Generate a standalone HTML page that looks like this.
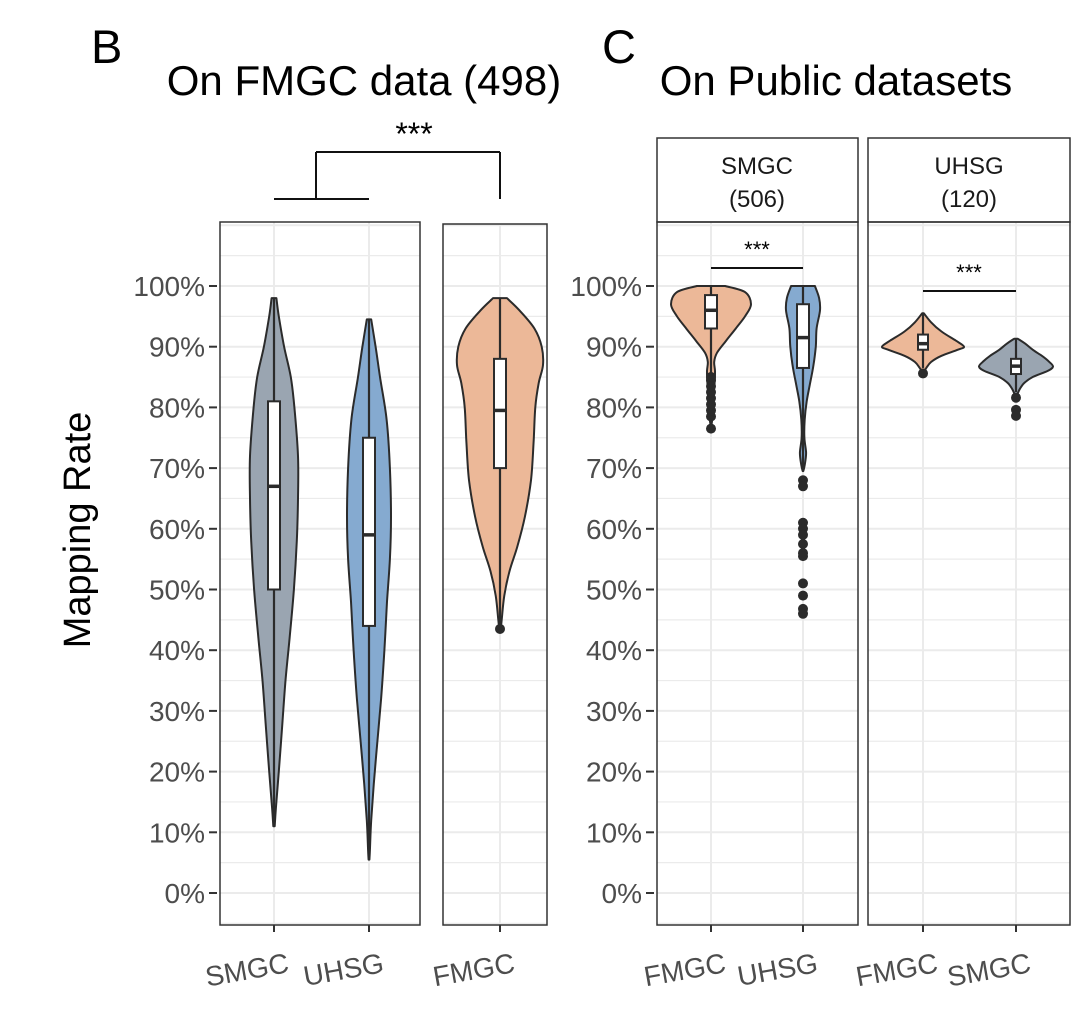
<!DOCTYPE html>
<html><head><meta charset="utf-8"><style>
html,body{margin:0;padding:0;background:#fff;}
svg{display:block;font-family:"Liberation Sans",Arial,sans-serif;}
</style></head><body>
<svg id="chart" width="1080" height="1017" viewBox="0 0 1080 1017"></svg>
<script>
// ---------- data ----------
const yTicks = [0,10,20,30,40,50,60,70,80,90,100];
const yTickLabels = ["0%","10%","20%","30%","40%","50%","60%","70%","80%","90%","100%"];
// violin densities: [value %, relative density 0..1]
const densSMGC_B = [[98,0.1],[95,0.2],[90,0.42],[85,0.7],[80,0.85],[72,1],[65,1],[58,0.95],[50,0.83],[42,0.65],[35,0.48],[28,0.35],[20,0.2],[14,0.08],[11,0.03]];
const densUHSG_B = [[94.5,0.1],[90,0.3],[85,0.5],[78,0.8],[70,0.95],[62,1],[55,0.95],[48,0.82],[40,0.7],[32,0.55],[25,0.38],[18,0.22],[12,0.1],[7,0.04],[5.5,0.02]];
const densFMGC_B = [[98,0.16],[96,0.45],[93,0.8],[90,0.97],[87,1],[84,0.9],[80,0.82],[74,0.78],[68,0.72],[62,0.58],[57,0.4],[53,0.22],[49,0.1],[45,0.04],[43.5,0.02]];
const densFMGC_C1 = [[100,0.35],[99,0.85],[97,1],[95,0.85],[93,0.62],[91,0.38],[89,0.15],[87.5,0.08],[86,0.1],[84,0.09],[82,0.07],[80,0.05],[78,0.03],[77,0.01]];
const densUHSG_C1 = [[100,0.7],[98,0.95],[96,1],[93,0.8],[90,0.75],[87,0.62],[84,0.42],[81,0.22],[78,0.1],[75,0.08],[72.5,0.18],[70.5,0.1],[69.5,0.02]];
const densFMGC_C2 = [[95.5,0.02],[94,0.2],[92.5,0.45],[91,0.8],[90,1],[89.5,0.85],[88.5,0.45],[87.5,0.2],[86.5,0.08],[85.8,0.02]];
const densSMGC_C2 = [[91.3,0.05],[90.5,0.25],[89.5,0.45],[88.5,0.7],[87.5,0.9],[86.7,1],[86,0.85],[85,0.45],[84,0.22],[83,0.1],[82,0.03]];
// box stats: [q1, median, q3, whiskerLow, whiskerHigh]
const boxSMGC_B = [50,67,81,11,98];
const boxUHSG_B = [44,59,75,5.5,94.5];
const boxFMGC_B = [70,79.5,88,43.5,98];
const boxFMGC_C1 = [93,96,98.5,85,100];
const boxUHSG_C1 = [86.5,91.5,97,70,100];
const boxFMGC_C2 = [89.5,90.5,92,86.5,95.5];
const boxSMGC_C2 = [85.5,86.8,88,82.5,91.3];
const outFMGC_B = [43.5];
const outFMGC_C1 = [76.5,78.5,79.5,80.5,81.5,82.5,83.5,84.5,85];
const outUHSG_C1 = [68,67,61,60,59,57.5,56,55.5,51,49,46.8,46];
const outFMGC_C2 = [85.6];
const outSMGC_C2 = [81.6,79.6,78.6];
const xCatsB1 = ["SMGC","UHSG"], xCatsB2 = ["FMGC"], xCatsC1 = ["FMGC","UHSG"], xCatsC2 = ["FMGC","SMGC"];

// ---------- helpers ----------
const NS="http://www.w3.org/2000/svg";
const svg=document.getElementById('chart');
function mk(tag,attrs,parent){const e=document.createElementNS(NS,tag);for(const k in attrs)e.setAttribute(k,attrs[k]);(parent||svg).appendChild(e);return e;}
const Y0=893, PXPER=6.07;
function y(v){return Y0 - v*PXPER;}
const GRAY="#9aa5b1", BLUE="#85aad0", ORANGE="#ecb898", DARK="#2b2b2b";

function panel(x0,x1,top,bot,cx,name){
  const g=mk('g',{});
  
  
  for(let v=-5;v<=110;v+=5){const yy=y(v);if(yy<top||yy>bot)continue;
    const l=mk('line',{x1:x0,x2:x1,y1:yy,y2:yy,stroke:'#ebebeb','stroke-width':v%10===0?2:1.2},g);
    }
  cx.forEach(c=>{const l=mk('line',{x1:c,x2:c,y1:top,y2:bot,stroke:'#ebebeb','stroke-width':2},g);
    });
  return g;
}
function border(x0,x1,top,bot,name){const r=mk('rect',{x:x0,y:top,width:x1-x0,height:bot-top,fill:'none',stroke:'#333','stroke-width':1.5});
  }
function smoothSide(pts){
  let d='';
  for(let i=0;i<pts.length-1;i++){
    const p0=pts[Math.max(0,i-1)],p1=pts[i],p2=pts[i+1],p3=pts[Math.min(pts.length-1,i+2)];
    const c1=[p1[0]+(p2[0]-p0[0])/6,p1[1]+(p2[1]-p0[1])/6];
    const c2=[p2[0]-(p3[0]-p1[0])/6,p2[1]-(p3[1]-p1[1])/6];
    d+=` C${c1[0].toFixed(1)},${c1[1].toFixed(1)} ${c2[0].toFixed(1)},${c2[1].toFixed(1)} ${p2[0].toFixed(1)},${p2[1].toFixed(1)}`;
  }
  return d;
}
function violin(cx,dens,maxW,fill,name){
  const right=dens.map(d=>[cx+d[1]*maxW,y(d[0])]);
  const left=dens.slice().reverse().map(d=>[cx-d[1]*maxW,y(d[0])]);
  let d=`M${right[0][0].toFixed(1)},${right[0][1].toFixed(1)}`+smoothSide(right)+
        ` L${left[0][0].toFixed(1)},${left[0][1].toFixed(1)}`+smoothSide(left)+'Z';
  const p=mk('path',{d:d,fill:fill,stroke:DARK,'stroke-width':2,'stroke-linejoin':'round'});
  
}
function box(cx,b,w,name){
  const l=mk('line',{x1:cx,x2:cx,y1:y(b[4]),y2:y(b[3]),stroke:DARK,'stroke-width':2.2});
  
  const r=mk('rect',{x:cx-w/2,y:y(b[2]),width:w,height:y(b[0])-y(b[2]),fill:'#fff',stroke:DARK,'stroke-width':2});
  
  const m=mk('line',{x1:cx-w/2,x2:cx+w/2,y1:y(b[1]),y2:y(b[1]),stroke:DARK,'stroke-width':3.5});
  
}
function outliers(cx,arr,name){arr.forEach(v=>{const c=mk('circle',{cx:cx,cy:y(v),r:5,fill:DARK});
  });}
function text(x,yy,s,size,name,extra){const t=mk('text',Object.assign({x:x,y:yy,'font-size':size,fill:'#000'},extra||{}));t.textContent=s;
  return t;}
function yAxis(xr,name){
  yTicks.forEach((v,i)=>{
    const l=mk('line',{x1:xr+4,x2:xr+12,y1:y(v),y2:y(v),stroke:'#333','stroke-width':2});
    
    text(xr,y(v)+10,yTickLabels[i],28,name,{'text-anchor':'end',fill:'#4d4d4d'});
  });
}
function xLabels(cats,xs,name){
  cats.forEach((c,i)=>{
    const l=mk('line',{x1:xs[i],x2:xs[i],y1:925,y2:932,stroke:'#333','stroke-width':2});
    
    text(xs[i]+16,972,c,28,name,{'text-anchor':'end',fill:'#4d4d4d',transform:`rotate(-10 ${xs[i]+16} 972)`});
  });
}

// ---------- panel B ----------
const TOP=222, BOT=925;
panel(220,420,TOP,BOT,[274,369],'panel-b-left');
panel(443,547,224,BOT,[500],'panel-b-right');
violin(274,densSMGC_B,24,GRAY,'violin-smgc-b');box(274,boxSMGC_B,12,'box-smgc-b');
violin(369,densUHSG_B,22,BLUE,'violin-uhsg-b');box(369,boxUHSG_B,12,'box-uhsg-b');
violin(500,densFMGC_B,43,ORANGE,'violin-fmgc-b');box(500,boxFMGC_B,12,'box-fmgc-b');outliers(500,outFMGC_B,'outlier-fmgc-b');
border(220,420,TOP,BOT,'panel-b-left-border');border(443,547,224,BOT,'panel-b-right-border');
yAxis(205,'y-tick-label-b');
xLabels(xCatsB1,[274,369],'x-label-b');xLabels(xCatsB2,[500],'x-label-b');

// ---------- panel C ----------
panel(657,858,TOP,BOT,[711,803],'panel-c-smgc');
panel(868,1070,TOP,BOT,[923,1016],'panel-c-uhsg');
violin(711,densFMGC_C1,40,ORANGE,'violin-fmgc-c1');outliers(711,outFMGC_C1,'outlier-fmgc-c1');box(711,boxFMGC_C1,12,'box-fmgc-c1');
violin(803,densUHSG_C1,17,BLUE,'violin-uhsg-c1');outliers(803,outUHSG_C1,'outlier-uhsg-c1');box(803,boxUHSG_C1,12,'box-uhsg-c1');
violin(923,densFMGC_C2,41,ORANGE,'violin-fmgc-c2');outliers(923,outFMGC_C2,'outlier-fmgc-c2');box(923,boxFMGC_C2,10,'box-fmgc-c2');
violin(1016,densSMGC_C2,37,GRAY,'violin-smgc-c2');outliers(1016,outSMGC_C2,'outlier-smgc-c2');box(1016,boxSMGC_C2,10,'box-smgc-c2');
border(657,858,TOP,BOT,'panel-c-smgc-border');border(868,1070,TOP,BOT,'panel-c-uhsg-border');
// strips
border(657,858,138,TOP,'strip-smgc');border(868,1070,138,TOP,'strip-uhsg');
text(757,174,'SMGC',24,'strip-label-smgc',{'text-anchor':'middle',fill:'#1a1a1a'});
text(757,207,'(506)',24,'strip-label-smgc-n',{'text-anchor':'middle',fill:'#1a1a1a'});
text(969,174,'UHSG',24,'strip-label-uhsg',{'text-anchor':'middle',fill:'#1a1a1a'});
text(969,207,'(120)',24,'strip-label-uhsg-n',{'text-anchor':'middle',fill:'#1a1a1a'});
yAxis(642,'y-tick-label-c');
xLabels(xCatsC1,[711,803],'x-label-c');xLabels(xCatsC2,[923,1016],'x-label-c');

// significance
function seg(x1,y1,x2,y2,name){const l=mk('line',{x1,y1,x2,y2,stroke:'#111','stroke-width':2});}
seg(274,199,369,199,'bracket-b-left');seg(316,199,316,152,'bracket-b-up');seg(316,152,500,152,'bracket-b-top');seg(500,152,500,199,'bracket-b-down');
text(414,145,'***',32,'sig-b',{'text-anchor':'middle'});
seg(711,268,803,268,'sig-line-c1');text(757,257,'***',22,'sig-c1',{'text-anchor':'middle'});
seg(923,291,1016,291,'sig-line-c2');text(969,280,'***',22,'sig-c2',{'text-anchor':'middle'});

// titles
text(91,63,'B',47,'panel-b-letter');
text(364,95,'On FMGC data (498)',42,'panel-b-title',{'text-anchor':'middle'});
text(602,63,'C',47,'panel-c-letter');
text(836,95,'On Public datasets',42,'panel-c-title',{'text-anchor':'middle'});
text(90,530,'Mapping Rate',38,'y-axis-title',{'text-anchor':'middle',transform:'rotate(-90 90 530)'});
</script>
</body></html>
